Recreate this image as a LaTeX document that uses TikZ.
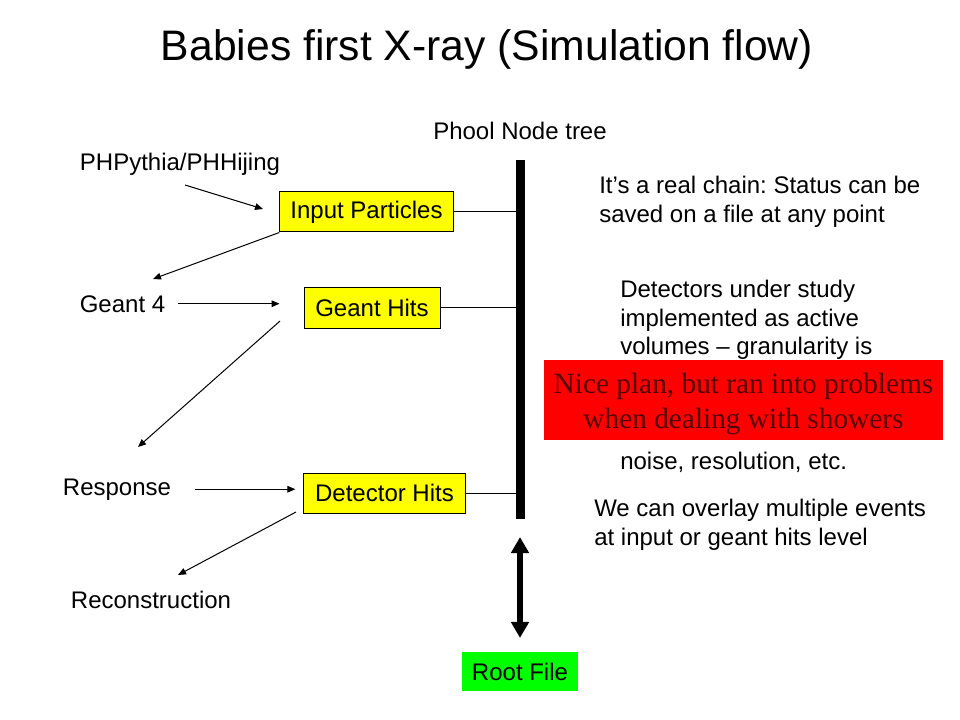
\documentclass[tikz,border=0pt]{standalone}
\usepackage{fontspec}
\setmainfont{Liberation Sans}
\newfontfamily\serifnote{Liberation Serif}
\usepackage{tikz}
\usetikzlibrary{arrows.meta, positioning}
\definecolor{stageyellow}{RGB}{255, 255, 0}
\definecolor{filegreen}{RGB}{0, 255, 0}
\definecolor{warnred}{RGB}{255, 0, 0}
\definecolor{warntext}{RGB}{85, 0, 0}
\frenchspacing

\begin{document}
\begin{tikzpicture}[
    x=0.75pt, y=-0.75pt,
    stage/.style={rectangle, draw=black, line width=0.75pt, fill=stageyellow,
                  minimum height=30pt, inner sep=0pt, font=\fontsize{18}{21.5}\selectfont},
    store/.style={rectangle, fill=filegreen, minimum width=87pt, minimum height=29pt,
                  inner sep=0pt, font=\fontsize{18}{21.5}\selectfont},
    lbl/.style={inner sep=0pt, anchor=base, font=\fontsize{18}{21.5}\selectfont},
    note/.style={inner sep=0pt, align=left, anchor=north west, font=\fontsize{18}{21.5}\selectfont},
    flow/.style={-{Triangle[length=6pt, width=5pt]}, line width=0.75pt},
    link/.style={{Triangle[length=12pt, width=13pt]}-{Triangle[length=12pt, width=13pt]}, line width=4.5pt},
    tie/.style={line width=0.75pt}
]
\useasboundingbox (0,0) rectangle (960,720);

% Title
\node[inner sep=0pt, anchor=base, font=\fontsize{32}{38}\selectfont] (title) at (487,61) {Babies first X-ray (Simulation flow)};

% Node tree
\node[lbl] (treelbl) at (520,140) {Phool Node tree};
\node[rectangle, fill=black, minimum width=6.75pt, minimum height=269pt, inner sep=0pt] (tree) at (520,339.5) {};

% Stages
\node[stage, minimum width=130pt] (input) at (366.5,212) {Input Particles};
\node[stage, minimum width=102pt] (hits) at (372,308) {Geant Hits};
\node[stage, minimum width=121pt] (dethits) at (384.5,493) {Detector Hits};
\node[store] (root) at (520,671.5) {Root File};

% Sources
\node[lbl] (pythia) at (180,171) {PHPythia/PHHijing};
\node[lbl] (geant) at (122.5,312) {Geant 4};
\node[lbl] (resp) at (117,495) {Response};
\node[lbl] (reco) at (151,608) {Reconstruction};

% Arrow ends
\coordinate (pythia out) at (185,185);
\coordinate (input in) at (263,209);
\coordinate (geant in) at (153,279);
\coordinate (hits out) at (280,321);
\coordinate (resp in) at (138,447);
\coordinate (dethits out) at (296,512);
\coordinate (reco in) at (178,575);

% Flow
\draw[flow] (pythia out) -- (input in);
\draw[flow] (input.south west) -- (geant in);
\draw[flow, shorten <=9.75pt, shorten >=18pt] (geant.east) -- (geant.east -| hits.west);
\draw[flow] (hits out) -- (resp in);
\draw[flow, shorten <=18pt, shorten >=6pt] (resp.east) -- (resp.east -| dethits.west);
\draw[flow] (dethits out) -- (reco in);

% Into the tree
\draw[tie] (input.east) -- (input.east -| tree.east);
\draw[tie] (hits.east) -- (hits.east -| tree.center);
\draw[tie] (dethits.east) -- (dethits.east -| tree.center);
\draw[link, shorten <=13.5pt, shorten >=10.5pt] (tree) -- (root);

% Notes
\node[note] (chain) at (599,176) {It's a real chain: Status can be\\saved on a file at any point};
\node[note] (detectors) at (620,280) {Detectors under study\\implemented as active\\volumes – granularity is\\\mbox{}\\\mbox{}\\\mbox{}\\noise, resolution, etc.};
\node[note] (overlay) at (594,499) {We can overlay multiple events\\at input or geant hits level};

% Red remark on top
\node[rectangle, fill=warnred, minimum width=299pt, minimum height=60pt, inner sep=0pt] (warning) at (743.5,400) {};
\node[inner sep=0pt, align=center, text=warntext, font=\serifnote\fontsize{22}{26}\selectfont]
      (warntxt) at (743.5,404) {Nice plan, but ran into problems\\when dealing with showers};

\end{tikzpicture}
\end{document}
